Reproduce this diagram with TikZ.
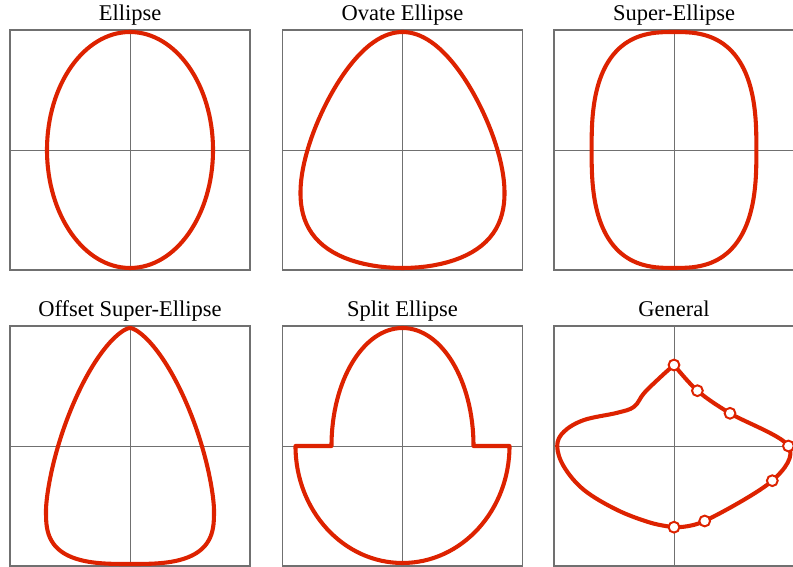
\documentclass[tikz,border=0pt]{standalone}
\usepackage{fontspec}
\setmainfont{Liberation Serif}
\usepackage{tikz}
\usetikzlibrary{calc}
\definecolor{rojo}{HTML}{DD2200}
\definecolor{gris}{HTML}{707070}
\tikzset{
  marco/.style={draw=gris, line width=0.8pt},
  eje/.style={draw=gris, line width=0.7pt},
  curva/.style={draw=rojo, line width=2.9pt, line join=round},
  punto/.style={circle, draw=rojo, fill=white, line width=1.4pt, minimum size=0.27cm, inner sep=0pt},
  titulo/.style={anchor=base, font=\fontsize{16}{19}\selectfont, inner sep=0pt},
  declare function={se(\u,\n)=sign(\u)*pow(max(abs(\u),0.0001),2/\n);},
}

\begin{document}
\begin{tikzpicture}
  \useasboundingbox (0,0) rectangle (19.825,14.175);
  \foreach \cx/\cy/\nombre/\texto in {3.25/10.425/elipse/Ellipse, 10.0625/10.425/ovada/Ovate Ellipse,
      16.85/10.425/super/Super-Ellipse, 3.25/3.025/desplazada/Offset Super-Ellipse,
      10.0625/3.025/partida/Split Ellipse, 16.85/3.025/general/General}{
    \draw[marco] ({\cx-3},{\cy-3}) rectangle ({\cx+3},{\cy+3});
    \draw[eje] ({\cx-3},\cy) -- ({\cx+3},\cy) (\cx,{\cy-3}) -- (\cx,{\cy+3});
    \node[titulo] (t-\nombre) at (\cx,{\cy+3.24}) {\texto};
  }
  \draw[curva] (3.25,10.425) ellipse [x radius=2.075, y radius=2.95];
  \draw[curva, shift={(10.0625,10.425)}] plot[domain=0:360, samples=121, variable=\t]
    ({2.375*cos(\t)/(1+0.365*sin(\t))}, {2.95*sin(\t)}) -- cycle;
  \draw[curva, shift={(16.85,10.425)}] plot[domain=0:360, samples=145, variable=\t]
    ({2.06*se(cos(\t),2.7)}, {2.95*se(sin(\t),2.7)}) -- cycle;
  \draw[curva, shift={(3.25,3.025)}] plot[domain=0:180, samples=91, variable=\t]
    ({2.1*se(cos(\t),1.5)}, {-1.6+4.55*se(sin(\t),1.5)})
    -- plot[domain=180:360, samples=73, variable=\t]
    ({2.1*se(cos(\t),3)}, {-1.6+1.35*se(sin(\t),3)}) -- cycle;
  \draw[curva, shift={(10.0625,3.025)}] (-2.675,0) -- (-1.775,0)
    arc[start angle=180, end angle=0, x radius=1.775, y radius=2.95] -- (2.675,0)
    arc[start angle=0, end angle=-180, x radius=2.675, y radius=2.925] -- cycle;
  \begin{scope}[shift={(16.85,3.025)}]
    \coordinate (p1) at (0,2.025);
    \coordinate (p2) at (0.585,1.3825);
    \coordinate (p3) at (1.4,0.8175);
    \coordinate (p4) at (2.86,0);
    \coordinate (p5) at (2.4575,-0.8675);
    \coordinate (p6) at (0.7675,-1.875);
    \coordinate (p7) at (0,-2.03);
    \draw[curva] plot[smooth, tension=0.55] coordinates {(p1) (p2) (p3) (p4) (p5) (p6) (p7)};
    \draw[curva] plot[smooth, tension=0.6] coordinates {(p7) (-0.58,-1.92) (-1.42,-1.6) (-2.25,-1.1)
      (-2.75,-0.52) (-2.92,0) (-2.75,0.36) (-2.25,0.65) (-1.42,0.83) (-1.0,0.98) (-0.75,1.32)
      (-0.33,1.73) (p1)};
    \foreach \i in {1,...,7} \node[punto] (c\i) at (p\i) {};
  \end{scope}
\end{tikzpicture}
\end{document}
